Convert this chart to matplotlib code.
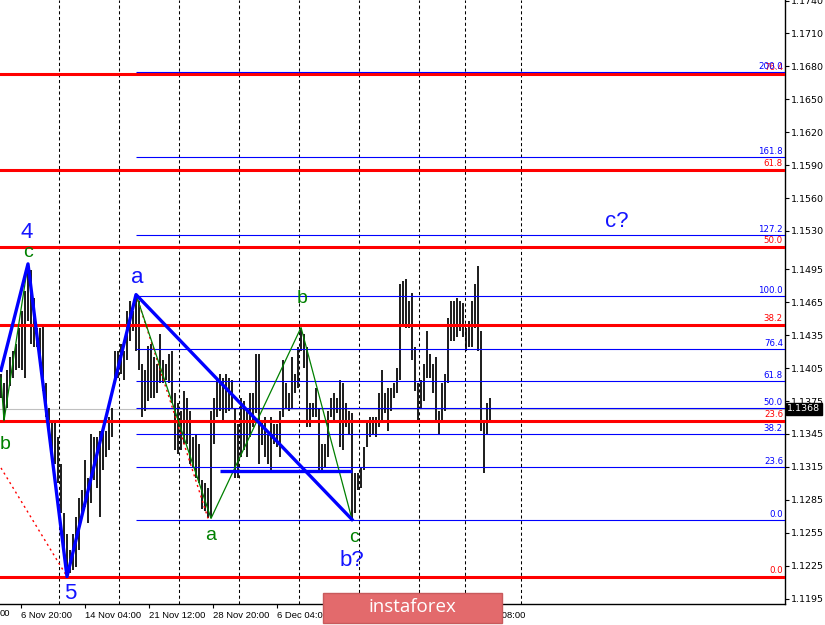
import numpy as np
import matplotlib
matplotlib.use('Agg')
import matplotlib.pyplot as plt
from matplotlib.patches import FancyBboxPatch

# bar highs / lows (EURUSD), one per bar
highs = [1.1400, 1.1391, 1.1403, 1.1415, 1.1421, 1.1427, 1.1442, 1.1457, 1.1475, 1.1500,
         1.1494, 1.1469, 1.1442, 1.1442, 1.1445, 1.1391, 1.1369, 1.1357, 1.1357, 1.1342,
         1.1318, 1.1273, 1.1254, 1.1239, 1.1254, 1.1269, 1.1287, 1.1294, 1.1321, 1.1305,
         1.1345, 1.1342, 1.1342, 1.1348, 1.1351, 1.1348, 1.1360, 1.1369, 1.1421, 1.1421,
         1.1427, 1.1421, 1.1457, 1.1466, 1.1457, 1.1472, 1.1466, 1.1409, 1.1403, 1.1425,
         1.1427, 1.1415, 1.1409, 1.1436, 1.1412, 1.1409, 1.1418, 1.1421, 1.1382, 1.1373,
         1.1366, 1.1384, 1.1378, 1.1366, 1.1342, 1.1345, 1.1336, 1.1303, 1.1300, 1.1296,
         1.1366, 1.1378, 1.1396, 1.1400, 1.1396, 1.1400, 1.1396, 1.1394, 1.1369, 1.1354,
         1.1378, 1.1375, 1.1366, 1.1382, 1.1382, 1.1418, 1.1418, 1.1357, 1.1360, 1.1345,
         1.1360, 1.1354, 1.1354, 1.1366, 1.1412, 1.1391, 1.1382, 1.1415, 1.1400, 1.1424,
         1.1442, 1.1436, 1.1424, 1.1373, 1.1373, 1.1387, 1.1369, 1.1336, 1.1336, 1.1366,
         1.1378, 1.1382, 1.1378, 1.1394, 1.1391, 1.1373, 1.1366, 1.1364, 1.1309, 1.1309,
         1.1315, 1.1333, 1.1357, 1.1360, 1.1360, 1.1360, 1.1382, 1.1403, 1.1382, 1.1387,
         1.1387, 1.1391, 1.1405, 1.1482, 1.1484, 1.1486, 1.1466, 1.1473, 1.1424, 1.1391,
         1.1394, 1.1409, 1.1439, 1.1418, 1.1409, 1.1415, 1.1366, 1.1391, 1.1400, 1.1451,
         1.1466, 1.1466, 1.1469, 1.1466, 1.1464, 1.1442, 1.1448, 1.1466, 1.1482, 1.1498,
         1.1439, 1.1357, 1.1373, 1.1378]
lows = [1.1378, 1.1357, 1.1369, 1.1389, 1.1396, 1.1403, 1.1405, 1.1403, 1.1396, 1.1448,
        1.1427, 1.1424, 1.1424, 1.1415, 1.1384, 1.1360, 1.1342, 1.1327, 1.1318, 1.1300,
        1.1273, 1.1239, 1.1215, 1.1218, 1.1221, 1.1224, 1.1239, 1.1269, 1.1278, 1.1264,
        1.1282, 1.1303, 1.1296, 1.1269, 1.1312, 1.1324, 1.1330, 1.1342, 1.1394, 1.1396,
        1.1400, 1.1394, 1.1412, 1.1430, 1.1439, 1.1421, 1.1403, 1.1360, 1.1366, 1.1375,
        1.1378, 1.1378, 1.1382, 1.1391, 1.1391, 1.1394, 1.1391, 1.1373, 1.1330, 1.1327,
        1.1330, 1.1336, 1.1336, 1.1318, 1.1315, 1.1305, 1.1300, 1.1277, 1.1275, 1.1268,
        1.1268, 1.1336, 1.1360, 1.1366, 1.1357, 1.1364, 1.1366, 1.1369, 1.1305, 1.1305,
        1.1324, 1.1330, 1.1324, 1.1342, 1.1351, 1.1364, 1.1318, 1.1335, 1.1324, 1.1318,
        1.1312, 1.1336, 1.1333, 1.1324, 1.1360, 1.1369, 1.1366, 1.1369, 1.1382, 1.1387,
        1.1421, 1.1405, 1.1351, 1.1351, 1.1360, 1.1360, 1.1312, 1.1312, 1.1315, 1.1324,
        1.1360, 1.1357, 1.1364, 1.1333, 1.1330, 1.1351, 1.1345, 1.1267, 1.1273, 1.1294,
        1.1296, 1.1312, 1.1333, 1.1342, 1.1345, 1.1342, 1.1351, 1.1357, 1.1364, 1.1348,
        1.1366, 1.1378, 1.1382, 1.1394, 1.1445, 1.1442, 1.1442, 1.1412, 1.1384, 1.1357,
        1.1369, 1.1375, 1.1396, 1.1396, 1.1382, 1.1357, 1.1344, 1.1357, 1.1366, 1.1391,
        1.1430, 1.1430, 1.1433, 1.1439, 1.1433, 1.1421, 1.1424, 1.1424, 1.1442, 1.1421,
        1.1348, 1.1309, 1.1345, 1.1355]
last_price = 1.1368

# wave markings: bar index + price
blue_wave_idx = [0, 9, 22, 45, 117]
blue_wave_px = [1.1403, 1.1500, 1.1215, 1.1472, 1.1267]
green_wave1_idx = [0, 1, 9]
green_wave1_px = [1.1396, 1.1357, 1.1500]
green_wave2_idx = [45, 70, 100, 117]
green_wave2_px = [1.1472, 1.1268, 1.1442, 1.1267]
red_dot1_idx = [0, 22]
red_dot1_px = [1.1314, 1.1215]
red_dot2_idx = [45, 69]
red_dot2_px = [1.1472, 1.1268]
flat_line_idx = [73, 117]
flat_line_px = 1.1311

# fibonacci grids
red_fib_low, red_fib_high = 1.1215, 1.1815
red_fib_levels = [0.0, 23.6, 38.2, 50.0, 61.8, 76.4]
blue_fib_low, blue_fib_high = 1.1267, 1.1471
blue_fib_levels = [0.0, 23.6, 38.2, 50.0, 61.8, 76.4, 100.0, 127.2, 161.8, 200.0]
blue_fib_start = 45

separators = [19.33, 39.33, 59.33, 79.33, 99.33, 119.33, 139.33, 154.67, 173.33]
time_ticks = [6.67, 28.0, 49.33, 70.67, 92.0, 156.0]
time_labels = ['6 Nov 20:00', '14 Nov 04:00', '21 Nov 12:00', '28 Nov 20:00',
               '6 Dec 04:00', '28 Dec 08:00']
price_ticks = [1.1740, 1.1710, 1.1680, 1.1650, 1.1620, 1.1590, 1.1560, 1.1530, 1.1495,
               1.1465, 1.1435, 1.1405, 1.1375, 1.1345, 1.1315, 1.1285, 1.1255, 1.1225, 1.1195]

W, H = 825, 625
fig = plt.figure(figsize=(W / 100, H / 100), dpi=100)
ax = fig.add_axes([0, 21 / H, 785 / W, 604 / H])
xmin, xmax = -0.33, 261.3
ax.set_xlim(xmin, xmax)
ax.set_ylim(1.1190, 1.17405)

x = np.arange(len(highs))
ax.vlines(x, lows, highs, color='black', lw=1.25, zorder=2)

for s in separators:
    ax.axvline(s, color='black', lw=0.75, ls=(0, (3, 2.5)), zorder=1)

ax.axhline(last_price, color='#c0c0c0', lw=0.8, zorder=1)

# red fib levels (full width)
for lv in red_fib_levels:
    p = red_fib_low + (red_fib_high - red_fib_low) * lv / 100
    ax.axhline(p, color='#ff0000', lw=2.2, zorder=4)
    ax.annotate(f'{lv:.1f}', (xmax, p), xytext=(-2, 2), textcoords='offset pixels',
                ha='right', va='bottom', fontsize=6.2, color='#ff0000', zorder=6)

# blue fib levels from the "a" top
for lv in blue_fib_levels:
    p = blue_fib_low + (blue_fib_high - blue_fib_low) * lv / 100
    ax.hlines(p, blue_fib_start, xmax, color='#0000ff', lw=0.8, zorder=4)
    ax.annotate(f'{lv:.1f}', (xmax, p), xytext=(-2, 1), textcoords='offset pixels',
                ha='right', va='bottom', fontsize=6.2, color='#0000ff', zorder=6)

ax.plot(red_dot1_idx, red_dot1_px, color='#ff0000', lw=1, ls=(0, (1.5, 2.5)), zorder=4)
ax.plot(red_dot2_idx, red_dot2_px, color='#ff0000', lw=1, ls=(0, (1.5, 2.5)), zorder=4)
ax.plot(green_wave1_idx, green_wave1_px, color='#008000', lw=0.9, zorder=5)
ax.plot(green_wave2_idx, green_wave2_px, color='#008000', lw=0.9, zorder=5)
ax.plot(blue_wave_idx, blue_wave_px, color='#0000ff', lw=2.4, zorder=5)
ax.hlines(flat_line_px, flat_line_idx[0], flat_line_idx[1], color='#0000ff', lw=2.4, zorder=5)

# wave labels
lab_font = 'Liberation Sans'
blue_c = '#1414ff'
green_c = '#008000'
labels = [
    ('4', blue_wave_idx[1], blue_wave_px[1], (-1, 31), blue_c, 16),
    ('c', green_wave1_idx[2], green_wave1_px[2], (0, 11), green_c, 14),
    ('b', green_wave1_idx[1], green_wave1_px[1], (1, -24), green_c, 14),
    ('5', blue_wave_idx[2], blue_wave_px[2], (3, -17), blue_c, 16),
    ('a', blue_wave_idx[3], blue_wave_px[3], (1, 17), blue_c, 16),
    ('a', green_wave2_idx[1], green_wave2_px[1], (0, -17), green_c, 14),
    ('b', green_wave2_idx[2], green_wave2_px[2], (1, 29), green_c, 14),
    ('c', green_wave2_idx[3], green_wave2_px[3], (2, -18), green_c, 14),
    ('b?', blue_wave_idx[4], blue_wave_px[4], (0, -41), blue_c, 16),
]
for t, i, p, off, col, fs in labels:
    ax.annotate(t, (i, p), xytext=off, textcoords='offset pixels', ha='center', va='center',
                fontsize=fs, color=col, family=lab_font, zorder=7)
ax.text(205.3, 1.1539, 'c?', ha='center', va='center', fontsize=16, color=blue_c,
        family=lab_font, zorder=7)

# axes styling, MT4 look
for sp in ['left', 'top']:
    ax.spines[sp].set_visible(False)
ax.spines['right'].set_linewidth(1)
ax.spines['bottom'].set_linewidth(1)
ax.yaxis.tick_right()
ax.set_yticks(price_ticks)
ax.set_yticklabels([f'{p:.4f}' for p in price_ticks])
ax.tick_params(axis='y', direction='out', length=3, width=0.8, labelsize=6.8, pad=1.5)
ax.set_xticks(time_ticks)
ax.set_xticklabels(time_labels, family='Liberation Sans')
for lbl in ax.get_xticklabels():
    lbl.set_ha('left')
ax.tick_params(axis='x', direction='out', length=3, width=0.8, labelsize=6.8, pad=2)
fig.text(0.0, 1 - 614 / H, '00', ha='left', va='center', fontsize=6.8, family='Liberation Sans')

ax.text(1.003, last_price, f'{last_price:.4f}', transform=ax.get_yaxis_transform(),
        ha='left', va='center', fontsize=6.8, color='white', zorder=8,
        bbox=dict(boxstyle='square,pad=0.15', fc='black', ec='black'))

# watermark box
logo = FancyBboxPatch((323 / W, 2 / H), 179 / W, 30 / H, boxstyle='square,pad=0',
                      transform=fig.transFigure, fc='#e36a6c', ec='#c85a5c', lw=1, zorder=10)
fig.patches.append(logo)
fig.text(412 / W, 1 - 607 / H, 'instaforex', ha='center', va='center', color='white',
         fontsize=13.5, family='Open Sans', zorder=11)

fig.savefig('out.png', dpi=100, facecolor='white')
